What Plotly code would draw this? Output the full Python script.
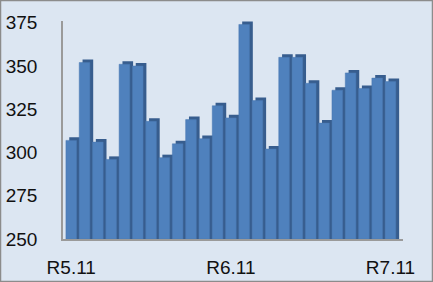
import plotly.graph_objects as go

categories = [f"m{i}" for i in range(25)]
tick_labels = {0: "R5.11", 12: "R6.11", 24: "R7.11"}
values = [307, 352, 306, 296, 351, 350, 318, 297, 305, 319, 308, 327, 320,
          374, 330, 302, 355, 355, 340, 317, 336, 346, 337, 343, 341]

depth_y = 1.75  # 3D depth in value units (~3px)
x_idx = list(range(len(categories)))

fig = go.Figure()
# depth (side + top) of the 3D bars
fig.add_trace(go.Bar(
    x=x_idx, y=[v + depth_y - 250 for v in values], base=250,
    width=0.8, offset=-0.15,
    marker=dict(color="#375D8E", line=dict(width=0)),
    hoverinfo="skip", showlegend=False,
))
# front face
fig.add_trace(go.Bar(
    x=x_idx, y=[v - 250 for v in values], base=250,
    width=0.8, offset=-0.4,
    marker=dict(color="#4F81BD", line=dict(color="#4A78B0", width=0.5)),
    showlegend=False,
))

W, H = 433, 282
l, r, t, b = 63, 30, 21, 43
fig.update_layout(
    width=W, height=H,
    margin=dict(l=l, r=r, t=t, b=b, autoexpand=False),
    barmode="overlay",
    paper_bgcolor="#DCE6F2",
    plot_bgcolor="#DCE6F2",
    font=dict(family="Liberation Sans, Arial, sans-serif", size=19, color="#111111"),
    xaxis=dict(
        range=[-0.62, 24.94],
        tickmode="array",
        tickvals=list(tick_labels.keys()),
        ticktext=list(tick_labels.values()),
        showgrid=False, zeroline=False, automargin=False,
        showline=True, linecolor="#9A9A9A", linewidth=1.5,
        ticks="", ticklabelstandoff=10,
    ),
    yaxis=dict(
        range=[250, 376],
        tickvals=[250, 275, 300, 325, 350, 375],
        showgrid=False, zeroline=False, automargin=False,
        showline=True, linecolor="#9A9A9A", linewidth=1.5,
        ticks="", ticklabelstandoff=20,
    ),
)
pw, ph = W - l - r, H - t - b
fig.add_shape(
    type="rect", xref="paper", yref="paper",
    x0=(0.5 - l) / pw, x1=(W - 0.5 - l) / pw,
    y0=-(b - 0.5) / ph, y1=(ph + t - 0.5) / ph,
    line=dict(color="#8C8C8C", width=1.5), fillcolor="rgba(0,0,0,0)",
    layer="above",
)
fig.write_html("out.html")
